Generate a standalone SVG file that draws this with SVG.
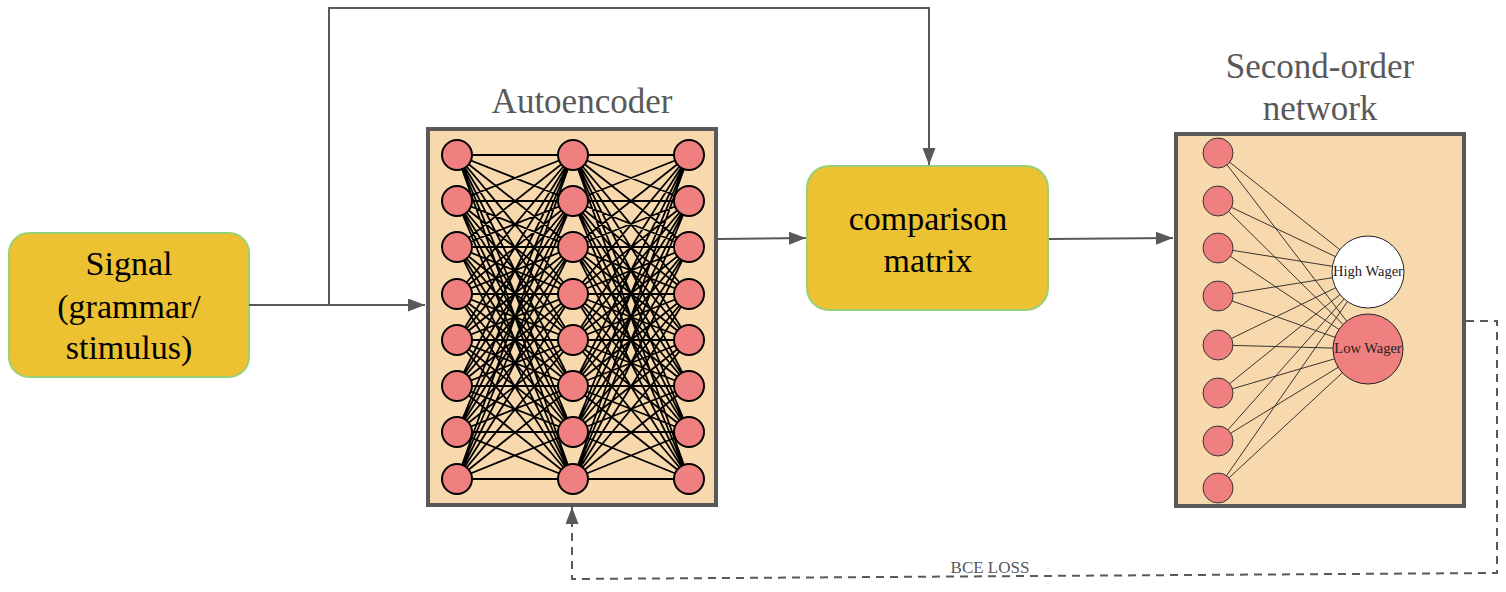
<svg xmlns="http://www.w3.org/2000/svg" xmlns:xlink="http://www.w3.org/1999/xlink" width="1506" height="592" viewBox="0 0 1506 592">
<style>
.frame{fill:#F8D9AE;stroke:#595959;stroke-width:4}
.box{fill:#EDC232;stroke:#97D077;stroke-width:2}
.lbl{font-family:"Liberation Serif",serif;font-size:34px;fill:#000;text-anchor:middle}
.title{font-family:"Liberation Serif",serif;font-size:35px;fill:#595959;text-anchor:middle}
.ae{fill:#F08080;stroke:#000;stroke-width:2}
.so{fill:#F08080;stroke:#333;stroke-width:1}
.conn{fill:none;stroke:#595959;stroke-width:2}
.dash{fill:none;stroke:#595959;stroke-width:2;stroke-dasharray:8 6}
.wag{font-family:"Liberation Serif",serif;font-size:14.5px;fill:#222;text-anchor:middle}
</style>
<defs>
<marker id="arr" markerUnits="userSpaceOnUse" markerWidth="18" markerHeight="14" refX="17" refY="6.5" orient="auto">
<path d="M0,0 L17,6.5 L0,13 z" fill="#595959"/>
</marker>
<path id="bundle" fill="none" stroke="#000" stroke-width="1.8" d="M457 155L573 155M457 155L573 201M457 155L573 247M457 155L573 294M457 155L573 340M457 155L573 386M457 155L573 432M457 155L573 479M457 201L573 155M457 201L573 201M457 201L573 247M457 201L573 294M457 201L573 340M457 201L573 386M457 201L573 432M457 201L573 479M457 247L573 155M457 247L573 201M457 247L573 247M457 247L573 294M457 247L573 340M457 247L573 386M457 247L573 432M457 247L573 479M457 294L573 155M457 294L573 201M457 294L573 247M457 294L573 294M457 294L573 340M457 294L573 386M457 294L573 432M457 294L573 479M457 340L573 155M457 340L573 201M457 340L573 247M457 340L573 294M457 340L573 340M457 340L573 386M457 340L573 432M457 340L573 479M457 386L573 155M457 386L573 201M457 386L573 247M457 386L573 294M457 386L573 340M457 386L573 386M457 386L573 432M457 386L573 479M457 432L573 155M457 432L573 201M457 432L573 247M457 432L573 294M457 432L573 340M457 432L573 386M457 432L573 432M457 432L573 479M457 479L573 155M457 479L573 201M457 479L573 247M457 479L573 294M457 479L573 340M457 479L573 386M457 479L573 432M457 479L573 479"/>
<g id="aecol">
<circle class="ae" cx="457" cy="155" r="15"/>
<circle class="ae" cx="457" cy="201" r="15"/>
<circle class="ae" cx="457" cy="247" r="15"/>
<circle class="ae" cx="457" cy="294" r="15"/>
<circle class="ae" cx="457" cy="340" r="15"/>
<circle class="ae" cx="457" cy="386" r="15"/>
<circle class="ae" cx="457" cy="432" r="15"/>
<circle class="ae" cx="457" cy="479" r="15"/>
</g>
</defs>

<g id="signal">
<rect class="box" x="9" y="233" width="240" height="144" rx="20"/>
<text class="lbl" x="129" y="275">Signal</text>
<text class="lbl" x="129" y="318">(grammar/</text>
<text class="lbl" x="129" y="359">stimulus)</text>
</g>

<g id="autoencoder">
<text class="title" x="582" y="113">Autoencoder</text>
<rect class="frame" x="428" y="129" width="288" height="376"/>
<use xlink:href="#bundle"/>
<use xlink:href="#bundle" transform="translate(116,0)"/>
<use xlink:href="#aecol"/>
<use xlink:href="#aecol" transform="translate(116,0)"/>
<use xlink:href="#aecol" transform="translate(232,0)"/>
</g>

<g id="comparison">
<rect class="box" x="807" y="166" width="241" height="144" rx="22"/>
<text class="lbl" x="928" y="230">comparison</text>
<text class="lbl" x="928" y="272">matrix</text>
</g>

<g id="second-order">
<text class="title" x="1320" y="78">Second-order</text>
<text class="title" x="1320" y="120">network</text>
<rect class="frame" x="1176" y="134" width="288" height="372"/>
<path fill="none" stroke="#222" stroke-width="0.9" d="M1218 153L1368 272M1218 153L1368 349M1218 201L1368 272M1218 201L1368 349M1218 248L1368 272M1218 248L1368 349M1218 296L1368 272M1218 296L1368 349M1218 345L1368 272M1218 345L1368 349M1218 393L1368 272M1218 393L1368 349M1218 441L1368 272M1218 441L1368 349M1218 488L1368 272M1218 488L1368 349"/>
<circle class="so" cx="1218" cy="153" r="15"/>
<circle class="so" cx="1218" cy="201" r="15"/>
<circle class="so" cx="1218" cy="248" r="15"/>
<circle class="so" cx="1218" cy="296" r="15"/>
<circle class="so" cx="1218" cy="345" r="15"/>
<circle class="so" cx="1218" cy="393" r="15"/>
<circle class="so" cx="1218" cy="441" r="15"/>
<circle class="so" cx="1218" cy="488" r="15"/>
<g id="high-wager">
<circle cx="1368" cy="272" r="36" fill="#fff" stroke="#222" stroke-width="1"/>
<text class="wag" x="1368" y="276">High Wager</text>
</g>
<g id="low-wager">
<circle cx="1368" cy="349" r="35" fill="#F08080" stroke="#222" stroke-width="1"/>
<text class="wag" x="1368" y="353">Low Wager</text>
</g>
</g>

<g id="connectors">
<path class="conn" d="M249 305H425" marker-end="url(#arr)"/>
<path class="conn" d="M329 305V8H929V165" marker-end="url(#arr)"/>
<path class="conn" d="M718 239L806 238" marker-end="url(#arr)"/>
<path class="conn" d="M1049 239L1173 238" marker-end="url(#arr)"/>
<path class="dash" d="M1466 321H1497V573L572 579V507" marker-end="url(#arr)"/>
<text x="990" y="573" font-family="Liberation Serif,serif" font-size="17" fill="#595959" text-anchor="middle">BCE LOSS</text>
</g>
</svg>
